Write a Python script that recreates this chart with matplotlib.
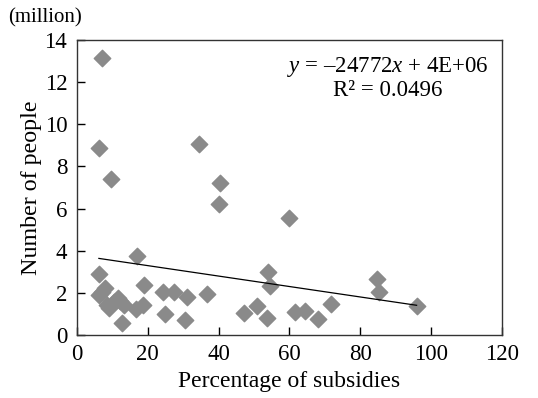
import numpy as np
import matplotlib
matplotlib.use("Agg")
import matplotlib.pyplot as plt

# percentage of subsidies vs number of people (million)
subsidy_pct = [7.0, 6.3, 9.6, 34.5, 40.4, 40.1, 17.1, 6.3, 18.9, 24.3,
               27.3, 31.0, 36.7, 25.0, 30.5, 12.6, 18.6, 16.6, 6.2, 7.9,
               8.4, 11.6, 13.3, 12.2, 9.0, 47.2, 50.7, 59.8, 54.0, 54.5,
               53.6, 61.5, 64.3, 68.1, 71.6, 84.6, 85.2, 95.9, 7.2, 10.5]
people_mil = [13.15, 8.85, 7.42, 9.05, 7.2, 6.23, 3.75, 2.88, 2.38, 2.03,
              2.03, 1.83, 1.94, 1.0, 0.72, 0.57, 1.45, 1.25, 1.88, 2.25,
              1.42, 1.75, 1.42, 1.6, 1.3, 1.03, 1.38, 5.57, 3.0, 2.33,
              0.82, 1.11, 1.14, 0.77, 1.48, 2.65, 2.06, 1.4, 2.05, 1.55]

# linear trend as printed on the chart (slope per %, in million)
trend_slope = -0.024772
trend_intercept = 3.79

x_ticks = [0, 20, 40, 60, 80, 100, 120]
y_ticks = [0, 2, 4, 6, 8, 10, 12, 14]

plt.rcParams["font.family"] = ["Liberation Serif", "DejaVu Serif"]
plt.rcParams["mathtext.fontset"] = "custom"
plt.rcParams["mathtext.rm"] = "Liberation Serif"
plt.rcParams["mathtext.it"] = "Liberation Serif:italic"

fig = plt.figure(figsize=(5.38, 3.98), dpi=100)
ax = fig.add_axes([0.143, 0.158, 0.790, 0.742])

ax.scatter(subsidy_pct, people_mil, marker="D", s=70, color="#8a8a8a",
           edgecolors="#8a8a8a", linewidths=1.0, zorder=2)

x = np.array(subsidy_pct)
xl = np.array([x.min(), x.max()])
ax.plot(xl, trend_slope * xl + trend_intercept, color="black", lw=0.9, zorder=3)

ax.set_xlim(0, 120)
ax.set_ylim(0, 14)
ax.set_xticks(x_ticks)
ax.set_yticks(y_ticks)
ax.tick_params(direction="in", length=6, width=1, labelsize=16.5)
ax.tick_params(axis="y", pad=7)
ax.tick_params(axis="x", pad=6.5)
for s in ax.spines.values():
    s.set_linewidth(1.0)
    s.set_color("#333333")

ax.set_xlabel("Percentage of subsidies", fontsize=17, labelpad=4)
ax.set_ylabel("Number of people", fontsize=17.3, labelpad=2)
fig.text(0.015, 0.955, "(million)", fontsize=15, ha="left", va="center")

ax.text(0.732, 0.87, "$y$ = \u201324772$x$ + 4E+06\nR\u00b2 = 0.0496",
        transform=ax.transAxes, ha="center", va="center", fontsize=16.5,
        linespacing=1.1)

fig.savefig("out.png", dpi=100)
